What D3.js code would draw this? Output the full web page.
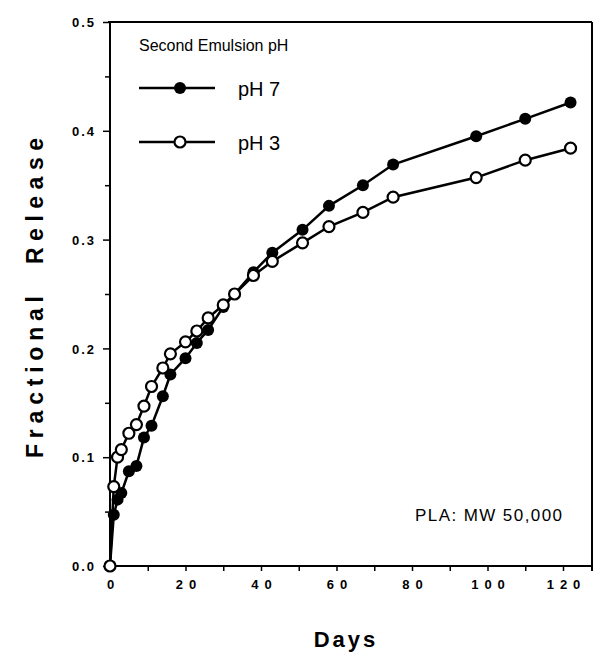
<!DOCTYPE html>
<html><head><meta charset="utf-8">
<script src="https://cdn.jsdelivr.net/npm/d3@7"></script>
<style>
body{margin:0;background:#fff}
svg text{font-family:"Liberation Sans",Arial,Helvetica,sans-serif;fill:#000}
</style>
</head><body>
<svg id="chart" width="615" height="654"></svg>
<script>
// ---- data ----
const days = [0,1,2,3,5,7,9,11,14,16,20,23,26,30,33,38,43,51,58,67,75,97,110,122];
const ph7  = [0,0.047,0.061,0.067,0.087,0.092,0.118,0.129,0.156,0.176,0.191,0.205,0.217,0.238,0.250,0.270,0.288,0.309,0.331,0.350,0.369,0.395,0.411,0.426];
const ph3  = [0,0.073,0.100,0.107,0.122,0.130,0.147,0.165,0.182,0.195,0.206,0.216,0.228,0.240,0.250,0.267,0.280,0.297,0.312,0.325,0.339,0.357,0.373,0.384];
const xTicks = [0,10,20,30,40,50,60,70,80,90,100,110,120];
const xTickLabels = ["0","","20","","40","","60","","80","","100","","120"];
const yTicks = [0,0.1,0.2,0.3,0.4,0.5];
const yMinorTicks = [0.05,0.15,0.25,0.35,0.45];
const yTickLabels = ["0.0","0.1","0.2","0.3","0.4","0.5"];
const seriesNames = ["pH 7","pH 3"];
const legendTitle = "Second Emulsion pH";
const note = "PLA:  MW  50,000";
const xTitle = "Days";
const yTitleParts = ["Fractional","Release"];

// ---- layout ----
const svg = d3.select("#chart");
const x = d3.scaleLinear([0,120],[110,563]);
const y = d3.scaleLinear([0,0.5],[566,22]);
const frameRight = 592;

// frame
const g = svg.append("g");
g.append("line").attr("x1",x(0)).attr("x2",x(0)).attr("y1",y(0.5)).attr("y2",y(0)).attr("stroke","#000").attr("stroke-width",2);
g.append("line").attr("x1",x(0)).attr("x2",frameRight).attr("y1",y(0)).attr("y2",y(0)).attr("stroke","#000").attr("stroke-width",2.2);
g.append("line").attr("x1",x(0)-2).attr("x2",frameRight).attr("y1",y(0.5)).attr("y2",y(0.5)).attr("stroke","#000").attr("stroke-width",2);
g.append("line").attr("x1",frameRight).attr("x2",frameRight).attr("y1",y(0.5)).attr("y2",y(0)+5).attr("stroke","#000").attr("stroke-width",2);

// x axis
const xa = svg.append("g").attr("transform",`translate(0,${y(0)})`)
  .call(d3.axisBottom(x).tickValues(xTicks).tickSize(5).tickSizeOuter(0)
    .tickFormat((d,i)=>xTickLabels[i]));
xa.select(".domain").remove();
xa.selectAll(".tick line").attr("stroke","#000").attr("stroke-width",1.5);
xa.selectAll(".tick text").attr("y",14).attr("dy","0.71em")
  .style("font-size","13px").style("font-weight","bold").style("letter-spacing","6px")
  .attr("dx","3px");

// y axis major
const ya = svg.append("g").attr("transform",`translate(${x(0)},0)`)
  .call(d3.axisLeft(y).tickValues(yTicks).tickSize(7).tickSizeOuter(0)
    .tickFormat((d,i)=>yTickLabels[i]));
ya.select(".domain").remove();
ya.selectAll(".tick line").attr("stroke","#000").attr("stroke-width",1.5);
ya.selectAll(".tick text").attr("x",-14).attr("dy","0.36em")
  .style("font-size","13px").style("font-weight","bold").style("letter-spacing","2px");
// y axis minor
const ym = svg.append("g").attr("transform",`translate(${x(0)},0)`)
  .call(d3.axisLeft(y).tickValues(yMinorTicks).tickSize(5).tickSizeOuter(0).tickFormat(""));
ym.select(".domain").remove();
ym.selectAll(".tick line").attr("stroke","#000").attr("stroke-width",1.5);

// axis titles
svg.append("text").attr("x",346).attr("y",647).attr("text-anchor","middle")
  .style("font-size","22px").style("font-weight","bold").style("letter-spacing","3px").text(xTitle);
const yt = svg.append("g").attr("transform","translate(43,0) rotate(-90)");
yt.append("text").attr("x",-458).attr("y",0).attr("textLength",162).attr("lengthAdjust","spacing")
  .style("font-size","23px").style("font-weight","bold").text(yTitleParts[0]);
yt.append("text").attr("x",-264).attr("y",0).attr("textLength",126).attr("lengthAdjust","spacing")
  .style("font-size","23px").style("font-weight","bold").text(yTitleParts[1]);

// series
const line = d3.line().x(d=>x(d[0])).y(d=>y(d[1]));
const s7 = days.map((d,i)=>[d,ph7[i]]);
const s3 = days.map((d,i)=>[d,ph3[i]]);
svg.append("path").attr("d",line(s7)).attr("fill","none").attr("stroke","#000").attr("stroke-width",2.5);
svg.append("path").attr("d",line(s3)).attr("fill","none").attr("stroke","#000").attr("stroke-width",2.5);
svg.append("g").selectAll("circle").data(s7).join("circle")
  .attr("cx",d=>x(d[0])).attr("cy",d=>y(d[1])).attr("r",6).attr("fill","#000");
svg.append("g").selectAll("circle").data(s3).join("circle")
  .attr("cx",d=>x(d[0])).attr("cy",d=>y(d[1])).attr("r",5.5).attr("fill","#fff").attr("stroke","#000").attr("stroke-width",2.2);

// legend
svg.append("text").attr("x",139).attr("y",51)
  .style("font-size","16px").text(legendTitle);
const legY = [88,142];
seriesNames.forEach((n,i)=>{
  svg.append("line").attr("x1",139).attr("x2",215).attr("y1",legY[i]).attr("y2",legY[i])
    .attr("stroke","#000").attr("stroke-width",2.5);
  const c = svg.append("circle").attr("cx",180).attr("cy",legY[i]).attr("r",i===0?6:5.5);
  if(i===0) c.attr("fill","#000"); else c.attr("fill","#fff").attr("stroke","#000").attr("stroke-width",2.2);
  svg.append("text").attr("x",238).attr("y",legY[i]+8)
    .style("font-size","20px").text(n);
});

// note
svg.append("text").attr("x",415).attr("y",521).attr("textLength",147).attr("lengthAdjust","spacing")
  .style("font-size","17px").text(note);
</script>
</body></html>
